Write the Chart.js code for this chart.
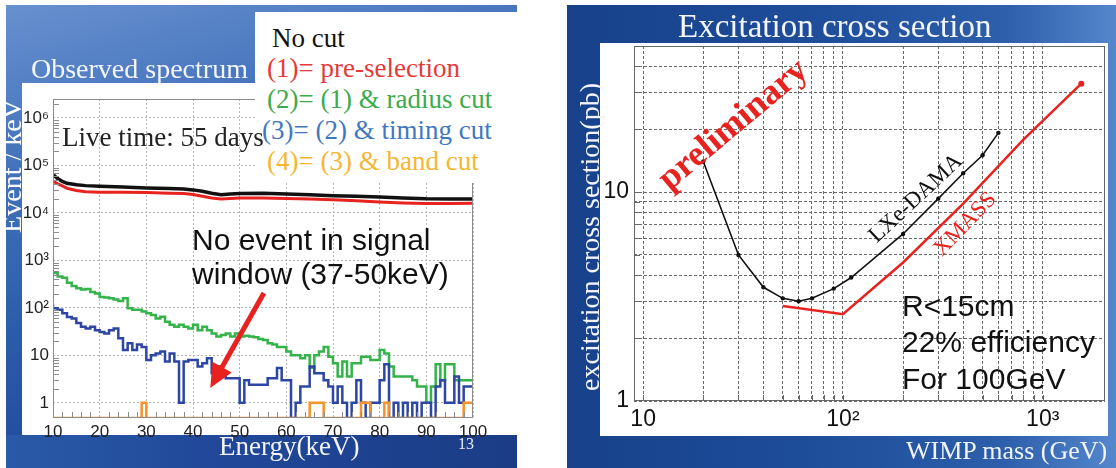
<!DOCTYPE html>
<html>
<head>
<meta charset="utf-8">
<title>Observed spectrum / Excitation cross section</title>
<script src="https://cdn.jsdelivr.net/npm/chart.js@4.4.1/dist/chart.umd.min.js"></script>
<style>
  html, body { margin: 0; padding: 0; }
  body { width: 1116px; height: 468px; position: relative; overflow: hidden; background: #fff; }
  .box { position: absolute; }
  .txt { position: absolute; white-space: nowrap; }
  .serif { font-family: "Liberation Serif", "DejaVu Serif", serif; }
  .sans { font-family: "Liberation Sans", Arial, sans-serif; }
  canvas { position: absolute; top: 0; }
</style>
</head>
<body>

<!-- left slide -->
<div class="box" style="left:6px;top:5px;width:511px;height:463px;background:linear-gradient(165deg,#6790cf 0%,#4674bd 25%,#2c5ca9 55%,#22489a 80%,#1c3c84 100%)"></div>
<div class="box" style="left:6px;top:435px;width:511px;height:33px;background:linear-gradient(90deg,#2a5aa8 0%,#21489a 40%,#1b3c85 100%)"></div>
<div class="box" style="left:22px;top:83px;width:495px;height:352px;background:#fff"></div>
<canvas id="spectrum" width="520" height="468" style="left:0"></canvas>
<div class="box" style="left:255px;top:12px;width:262px;height:171px;background:#fff"></div>

<div class="box" style="left:6px;top:83px;width:16px;height:180px;overflow:hidden">
  <div class="txt serif" style="left:-84px;top:69px;width:180px;height:28px;line-height:28px;font-size:28px;color:#fff;text-align:center;transform:rotate(-90deg)">Event / keV</div>
</div>
<div class="txt serif" style="left:31px;top:55px;font-size:28px;line-height:28px;color:#f4f6fb">Observed spectrum</div>
<div class="txt serif" style="left:272px;top:25px;font-size:27px;line-height:27px;color:#111">No cut</div>
<div class="txt serif" style="left:267px;top:55px;font-size:27px;line-height:27px;color:#e53a35">(1)= pre-selection</div>
<div class="txt serif" style="left:267px;top:86px;font-size:27px;line-height:27px;color:#3bab4b">(2)= (1) &amp; radius cut</div>
<div class="txt serif" style="left:262px;top:117px;font-size:27px;line-height:27px;color:#3f78bf">(3)= (2) &amp; timing cut</div>
<div class="txt serif" style="left:267px;top:148px;font-size:27px;line-height:27px;color:#f6b632">(4)= (3) &amp; band cut</div>
<div class="txt serif" style="left:62px;top:124px;font-size:27px;line-height:27px;color:#222">Live time: 55 days</div>
<div class="txt sans" style="left:192px;top:225px;font-size:30px;line-height:30px;color:#111">No event in signal</div>
<div class="txt sans" style="left:192px;top:259px;font-size:30px;line-height:30px;color:#111">window (37-50keV)</div>
<div class="txt serif" style="left:219px;top:433px;font-size:27px;line-height:27px;color:#f2f4fa">Energy(keV)</div>
<div class="txt serif" style="left:458px;top:436px;font-size:16px;line-height:16px;color:#e8ecf6">13</div>

<!-- right slide -->
<div class="box" style="left:567px;top:5px;width:549px;height:463px;background:linear-gradient(90deg,#17418a 0%,#1e4d9a 45%,#2d5fab 80%,#5587cd 100%)"></div>
<div class="box" style="left:600px;top:43px;width:508px;height:393px;background:#fff"></div>
<canvas id="xsec" width="549" height="468" style="left:567px"></canvas>

<div class="txt serif" style="left:678px;top:10px;font-size:33px;line-height:33px;color:#f4f6fb">Excitation cross section</div>
<div class="txt serif" style="left:430px;top:223px;width:320px;height:28px;line-height:28px;font-size:28px;color:#f2f4fa;text-align:center;transform:rotate(-90deg)">excitation cross section(pb)</div>
<div class="txt serif" style="left:906px;top:438px;font-size:26px;line-height:26px;color:#f2f4fa">WIMP mass (GeV)</div>
<div class="txt sans" style="left:902px;top:291px;font-size:30px;line-height:30px;color:#111">R&lt;15cm</div>
<div class="txt sans" style="left:902px;top:327px;font-size:30px;line-height:30px;color:#111">22% efficiency</div>
<div class="txt sans" style="left:902px;top:364px;font-size:30px;line-height:30px;color:#111">For 100GeV</div>

<script>
// ---------- left: observed spectrum, 1 keV bins (lower edges) ----------
const energyBins = [10,11,12,13,14,15,16,17,18,19,20,21,22,23,24,25,26,27,28,29,
  30,31,32,33,34,35,36,37,38,39,40,41,42,43,44,45,46,47,48,49,
  50,51,52,53,54,55,56,57,58,59,60,61,62,63,64,65,66,67,68,69,
  70,71,72,73,74,75,76,77,78,79,80,81,82,83,84,85,86,87,88,89,
  90,91,92,93,94,95,96,97,98,99];
const energyMax = 100;

// smooth-looking spectra (no cut, pre-selection) read at a coarser step
const energySmooth = [10,11,12,13,15,17,20,25,30,35,38,40,42,44,46,48,50,55,60,65,70,75,80,85,90,95,100];
const noCut = [6.4e4,5.3e4,4.6e4,4.2e4,3.9e4,3.75e4,3.65e4,3.5e4,3.35e4,3.25e4,3.2e4,3.05e4,2.85e4,2.6e4,2.4e4,2.5e4,2.55e4,2.6e4,2.5e4,2.4e4,2.3e4,2.25e4,2.15e4,2.05e4,1.98e4,1.97e4,1.97e4];
const preSelection = [4.65e4,4.1e4,3.7e4,3.3e4,2.95e4,2.8e4,2.73e4,2.73e4,2.7e4,2.6e4,2.55e4,2.45e4,2.25e4,2.05e4,1.97e4,2.0e4,2.05e4,2.07e4,2.0e4,1.95e4,1.9e4,1.8e4,1.7e4,1.62e4,1.57e4,1.57e4,1.6e4];

const radiusCut = [
  580,540,460,430,340,290,260,245,250,215,
  200,170,165,160,150,140,160,98,91,91,
  84,77,71,60,65,51,44,40,44,40,
  37,44,34,40,34,29,25,27,29,25,
  29,25,26,25,24,22,21,18,17,15,
  15,12,10,10,8.7,10,5.5,10,12,15,
  9.3,6.8,3.6,7.4,3.6,6.8,6.8,9.3,9.3,8,
  8,13,11,5.8,3.6,3.6,3.6,3.6,3,2.2,
  2.2,1,2.2,6.5,3,6.5,6.5,3,3,3];
const timingCut = [
  121,98,91,77,64,60,48,40,37,40,
  34,31,29,34,37,23,13,18,13,17,
  15,8,10,11,12,7.4,11,7.4,1,7.4,
  8,8,5.8,6.8,8.7,4.2,5.8,3.9,3.3,3.3,
  3.3,1,3,2.4,2.4,2.4,2.4,3.3,3.3,5.4,
  3,3,0,1,2.2,2.2,5.8,4.2,4.2,3,
  2.2,1,2.2,1,0,1,3,1,0,1,
  1,3,6.5,0,1,0,1,0,1,0,
  1,1,0,2.2,3,1,1,3.6,1,2.2];
const bandCut = [
  0,0,0,0,0,0,0,0,0,0,
  0,0,0,0,0,0,0,0,0,0,
  1,0,0,0,0,0,0,0,0,0,
  0,0,0,0,0,0,0,0,0,0,
  0,0,0,0,0,0,0,0,0,0,
  0,0,0,0,0,0,1,1,1,0,
  0,0,0,0,0,0,0,1,1,0,
  0,0,1,0,0,0,0,0,0,0,
  0,0,0,0,0,0,0,0,0,1];

const energyTicks = [10,20,30,40,50,60,70,80,90,100];
const countTicks = [1,10,100,1e3,1e4,1e5,1e6];
const countTickLabels = ['1','10','10\u00b2','10\u00b3','10\u2074','10\u2075','10\u2076'];
const countMin = 0.48, countMax = 2.5e6;

// ---------- right: excitation cross section ----------
const damaMass  = [20,30,40,50,60,70,90,110,200,300,400,500,600];
const damaSigma = [14,5,3.5,3.1,3.0,3.1,3.45,3.9,6.3,9.3,12.3,15,19.2];
const xmassMass  = [50,100,200,400,800,1560];
const xmassSigma = [2.85,2.6,4.6,8.8,17.8,33];

const massTicks = [10,20,30,40,50,60,70,80,90,100,200,300,400,500,600,700,800,900,1000];
const massTickLabels = {10:'10', 100:'10\u00b2', 1000:'10\u00b3'};
const sigmaTicks = [1,2,3,4,5,6,7,8,9,10,20,30,40,50];
const sigmaTickLabels = {1:'1', 10:'10'};

// frame around the plot area, with short minor ticks on the inside
const framePlugin = {
  id: 'frame',
  afterDraw(chart, args, opts) {
    const {ctx, chartArea: a, scales: {x, y}} = chart;
    ctx.save();
    ctx.strokeStyle = opts.color;
    ctx.lineWidth = 1;
    ctx.strokeRect(a.left + 0.5, a.top + 0.5, a.right - a.left - 1, a.bottom - a.top - 1);
    ctx.beginPath();
    (opts.yMinor || []).forEach(v => {
      const py = Math.round(y.getPixelForValue(v)) + 0.5;
      if (py < a.top || py > a.bottom) return;
      ctx.moveTo(a.left, py); ctx.lineTo(a.left + opts.tick, py);
    });
    (opts.xMinor || []).forEach(v => {
      const px = Math.round(x.getPixelForValue(v)) + 0.5;
      if (px < a.left || px > a.right) return;
      ctx.moveTo(px, a.bottom); ctx.lineTo(px, a.bottom - opts.tick);
    });
    ctx.stroke();
    ctx.restore();
  }
};

// free text and arrows placed in data coordinates
const notesPlugin = {
  id: 'notes',
  afterDatasetsDraw(chart, args, opts) {
    const {ctx, scales: {x, y}} = chart;
    (opts.arrows || []).forEach(a => {
      const x0 = x.getPixelForValue(a.from[0]), y0 = y.getPixelForValue(a.from[1]);
      const x1 = x.getPixelForValue(a.to[0]), y1 = y.getPixelForValue(a.to[1]);
      const ang = Math.atan2(y1 - y0, x1 - x0);
      const c = Math.cos(ang), s = Math.sin(ang);
      ctx.save();
      ctx.strokeStyle = a.color; ctx.fillStyle = a.color; ctx.lineWidth = a.width;
      ctx.beginPath();
      ctx.moveTo(x0, y0);
      ctx.lineTo(x1 - c * a.head * 0.8, y1 - s * a.head * 0.8);
      ctx.stroke();
      ctx.beginPath();
      ctx.moveTo(x1, y1);
      ctx.lineTo(x1 - c * a.head + s * a.half, y1 - s * a.head - c * a.half);
      ctx.lineTo(x1 - c * a.head - s * a.half, y1 - s * a.head + c * a.half);
      ctx.closePath();
      ctx.fill();
      ctx.restore();
    });
    (opts.labels || []).forEach(l => {
      ctx.save();
      ctx.translate(x.getPixelForValue(l.at[0]), y.getPixelForValue(l.at[1]));
      ctx.rotate(l.angle * Math.PI / 180);
      ctx.font = l.font;
      ctx.fillStyle = l.color;
      ctx.textAlign = 'center';
      ctx.textBaseline = 'middle';
      ctx.fillText(l.text, 0, 0);
      ctx.restore();
    });
  }
};

function logMinors(decades) {
  const out = [];
  decades.forEach(d => { for (let m = 2; m <= 9; m++) out.push(m * d); });
  return out;
}

function histPoints(values) {
  const pts = energyBins.map((e, i) => ({x: e, y: values[i] > 0 ? values[i] : countMin}));
  pts.push({x: energyMax, y: pts[pts.length - 1].y});
  return pts;
}

function histSet(label, values, color, width) {
  return {label, data: histPoints(values), borderColor: color, borderWidth: width,
          stepped: 'after', pointRadius: 0, fill: false};
}

new Chart(document.getElementById('spectrum'), {
  type: 'line',
  data: {
    datasets: [
      {label: 'No cut', data: energySmooth.map((e, i) => ({x: e, y: noCut[i]})),
       borderColor: '#111', borderWidth: 3.5, pointRadius: 0, tension: 0},
      {label: '(1)', data: energySmooth.map((e, i) => ({x: e, y: preSelection[i]})),
       borderColor: '#e8231f', borderWidth: 3, pointRadius: 0, tension: 0},
      histSet('(4)', bandCut, '#f5922a', 2.5),
      histSet('(3)', timingCut, '#2e46a3', 2.5),
      histSet('(2)', radiusCut, '#33b34a', 2.5)
    ]
  },
  options: {
    responsive: false,
    animation: false,
    layout: {padding: {top: 99, right: 47, left: 0, bottom: 0}},
    plugins: {
      legend: {display: false},
      tooltip: {enabled: false},
      frame: {color: '#8c8c8c', tick: 6, yMinor: logMinors([1, 10, 100, 1e3, 1e4, 1e5, 1e6]),
              xMinor: [12,14,16,18,22,24,26,28,32,34,36,38,42,44,46,48,52,54,56,58,62,64,66,68,72,74,76,78,82,84,86,88,92,94,96,98]},
      notes: {
        arrows: [{from: [55.2, 205], to: [43.7, 2.05], color: '#e8231f', width: 5, head: 24, half: 11}]
      }
    },
    scales: {
      x: {
        type: 'linear', min: 10, max: 100, bounds: 'data',
        afterBuildTicks: s => { s.ticks = energyTicks.map(v => ({value: v})); },
        afterFit: s => { s.height = 50; },
        grid: {color: '#b5b5b5', lineWidth: 1, drawTicks: false},
        border: {display: false, dash: [2, 2]},
        ticks: {font: {family: 'Liberation Sans', size: 17}, color: '#222', padding: 4,
                autoSkip: false, maxRotation: 0, minRotation: 0}
      },
      y: {
        type: 'logarithmic', min: countMin, max: countMax, bounds: 'data',
        afterBuildTicks: s => { s.ticks = countTicks.map(v => ({value: v})); },
        afterFit: s => { s.width = 53; },
        grid: {color: '#b5b5b5', lineWidth: 1, drawTicks: false},
        border: {display: false, dash: [2, 2]},
        ticks: {font: {family: 'Liberation Sans', size: 17}, color: '#222', padding: 4, autoSkip: false,
                callback: v => countTickLabels[countTicks.indexOf(v)] || ''}
      }
    }
  },
  plugins: [framePlugin, notesPlugin]
});

new Chart(document.getElementById('xsec'), {
  type: 'line',
  data: {
    datasets: [
      {label: 'XMASS', data: xmassMass.map((m, i) => ({x: m, y: xmassSigma[i]})),
       borderColor: '#e8231f', borderWidth: 2.5, tension: 0,
       pointRadius: c => c.dataIndex === xmassMass.length - 1 ? 3 : 0,
       pointBackgroundColor: '#e8231f', pointBorderWidth: 0},
      {label: 'LXe-DAMA', data: damaMass.map((m, i) => ({x: m, y: damaSigma[i]})),
       borderColor: '#111', borderWidth: 1.6, tension: 0,
       pointRadius: 2.2, pointBackgroundColor: '#111', pointBorderWidth: 0}
    ]
  },
  options: {
    responsive: false,
    animation: false,
    layout: {padding: {top: 46, right: 11, left: 0, bottom: 0}},
    plugins: {
      legend: {display: false},
      tooltip: {enabled: false},
      frame: {color: '#666', tick: 6, yMinor: sigmaTicks, xMinor: massTicks},
      notes: {
        labels: [
          {text: 'preliminary', at: [28.4, 20.9], angle: -40, font: 'bold 36px "Liberation Serif"', color: '#e8231f'},
          {text: 'LXe-DAMA', at: [232, 9.3], angle: -43, font: '23px "Liberation Serif"', color: '#111'},
          {text: 'XMASS', at: [409, 7.0], angle: -46, font: '23px "Liberation Serif"', color: '#e8231f'}
        ]
      }
    },
    scales: {
      x: {
        type: 'logarithmic', min: 9, max: 2050, bounds: 'data',
        afterBuildTicks: s => { s.ticks = massTicks.map(v => ({value: v})); },
        afterFit: s => { s.height = 67; },
        grid: {color: '#6a6a6a', lineWidth: 1, drawTicks: false},
        border: {display: false, dash: [3, 2]},
        ticks: {font: {family: 'Liberation Sans', size: 23}, color: '#111', padding: 5,
                autoSkip: false, maxRotation: 0, minRotation: 0,
                callback: v => massTickLabels[v] || ''}
      },
      y: {
        type: 'logarithmic', min: 1, max: 50, bounds: 'data',
        afterBuildTicks: s => { s.ticks = sigmaTicks.map(v => ({value: v})); },
        afterFit: s => { s.width = 67; },
        grid: {color: '#6a6a6a', lineWidth: 1, drawTicks: false},
        border: {display: false, dash: [3, 2]},
        ticks: {font: {family: 'Liberation Sans', size: 23}, color: '#111', padding: 5, autoSkip: false,
                callback: v => sigmaTickLabels[v] || ''}
      }
    }
  },
  plugins: [framePlugin, notesPlugin]
});
</script>
</body>
</html>
